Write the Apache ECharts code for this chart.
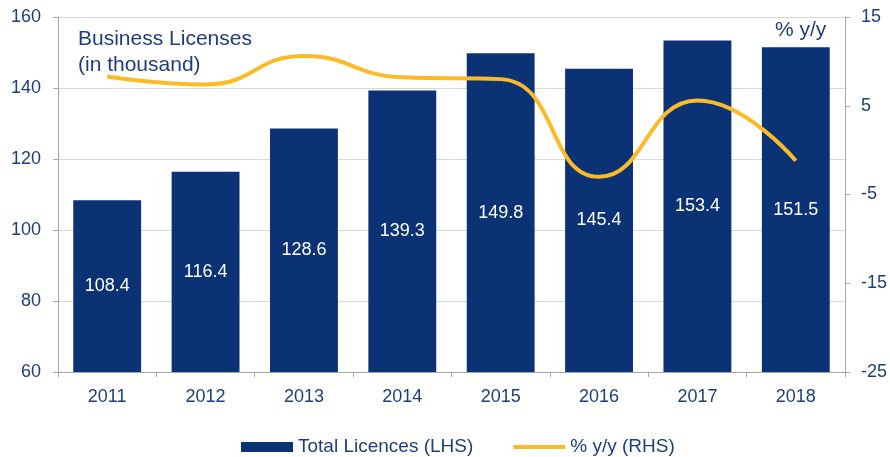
<!DOCTYPE html>
<html><head><meta charset="utf-8">
<script src="https://cdn.jsdelivr.net/npm/echarts@6/dist/echarts.min.js"></script>
<style>html,body{margin:0;padding:0;background:#fff}#c{width:890px;height:457px}</style>
</head><body><div id="c"></div>
<script>
var categories = ['2011','2012','2013','2014','2015','2016','2017','2018'];
var totalLicences = [108.4,116.4,128.6,139.3,149.8,145.4,153.4,151.5];
var yoy = [8.3,7.4,10.6,8.2,8.0,-3.0,5.6,-1.2];
var leftTicks = {min:60,max:160,interval:20};
var rightTicks = {min:-25,max:15,interval:10};

var txt = '#1d3e7e';
var ff = 'Liberation Sans, Arial, sans-serif';
var chart = echarts.init(document.getElementById('c'));
chart.setOption({
  animation:false,
  textStyle:{fontFamily:ff},
  grid:{left:58,right:45,top:17,bottom:85},
  legend:{
    top:436,left:241,padding:0,itemGap:38,itemWidth:52,itemHeight:10,
    textStyle:{color:txt,fontSize:19,fontFamily:ff,lineHeight:22},
    data:[{name:'Total Licences (LHS)',icon:'rect'},
          {name:'% y/y (RHS)',itemStyle:{opacity:0},lineStyle:{width:4,color:'#fbbb27'}}]
  },
  graphic:[
    {type:'text',left:78,top:26,style:{text:'Business Licenses\n(in thousand)',fill:txt,font:'21px '+ff,lineHeight:26}},
    {type:'text',left:775,top:20,style:{text:'% y/y',fill:txt,font:'21px '+ff}}
  ],
  xAxis:{
    type:'category',data:categories,
    axisLine:{onZero:false,lineStyle:{color:'#a6a6a6',width:1}},
    axisTick:{show:true,length:5,lineStyle:{color:'#a6a6a6'}},
    axisLabel:{color:txt,fontSize:18,margin:16}
  },
  yAxis:[
    {type:'value',min:leftTicks.min,max:leftTicks.max,interval:leftTicks.interval,
     axisLine:{show:true,lineStyle:{color:'#a6a6a6'}},
     axisTick:{show:true,length:5,lineStyle:{color:'#a6a6a6'}},
     axisLabel:{color:txt,fontSize:18,margin:17},
     splitLine:{lineStyle:{color:'#d9d9d9'}}},
    {type:'value',min:rightTicks.min,max:rightTicks.max,interval:rightTicks.interval,position:'right',
     axisLine:{show:true,lineStyle:{color:'#a6a6a6'}},
     axisTick:{show:true,length:5,lineStyle:{color:'#a6a6a6'}},
     axisLabel:{color:txt,fontSize:18,margin:16},
     splitLine:{show:false}}
  ],
  series:[
    {name:'Total Licences (LHS)',type:'bar',data:totalLicences,barWidth:'69%',
     itemStyle:{color:'#0a3275'},
     label:{show:true,position:'inside',color:'#fff',fontSize:18}},
    {name:'% y/y (RHS)',type:'line',yAxisIndex:1,data:yoy,smooth:0.5,showSymbol:false,symbol:'none',
     lineStyle:{color:'#fbbb27',width:4},itemStyle:{color:'#fbbb27'}}
  ]
});
</script></body></html>
